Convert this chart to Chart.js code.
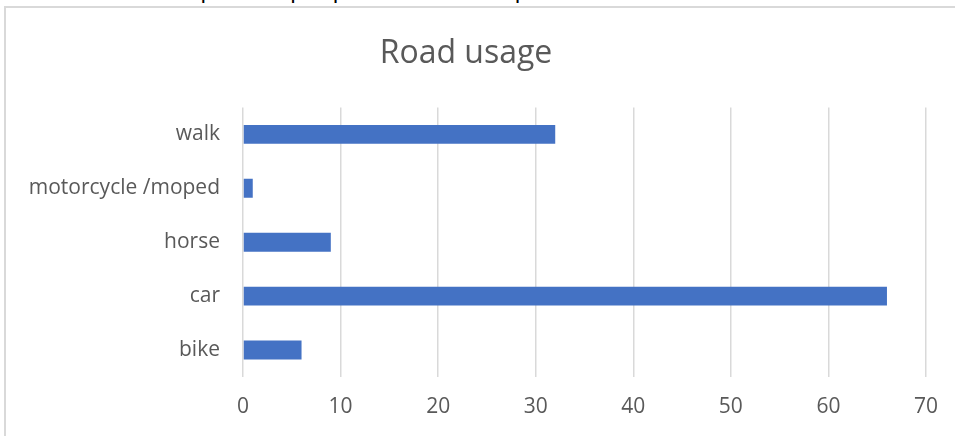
<!DOCTYPE html>
<html>
<head>
<meta charset="utf-8">
<script src="https://cdn.jsdelivr.net/npm/chart.js@4.4.0/dist/chart.umd.min.js"></script>
<style>
  body { margin: 0; background: #fff; overflow: hidden; }
  #docText {
    position: absolute; left: 22px; top: -29px; margin: 0;
    font-family: "Open Sans", sans-serif; font-size: 24px; color: #000;
    white-space: nowrap;
  }
  #frame {
    position: absolute; left: 4px; top: 6px; width: 970px; height: 450px;
    border: 2px solid #d9d9d9;
  }
  #wrap { position: absolute; left: 0; top: 0; width: 955px; height: 436px; }
</style>
</head>
<body>
<p id="docText">assessed the impact on people's other than pleasant.</p>
<div id="frame"></div>
<div id="wrap"><canvas id="roadChart"></canvas></div>
<script>
// 차트 데이터
var categories = ["walk", "motorcycle /moped", "horse", "car", "bike"];
var usageValues = [32, 1, 9, 66, 6];
var xTicks = [0, 10, 20, 30, 40, 50, 60, 70];

var textColor = "#595959";
var fontName = "'Open Sans', sans-serif";

const ctx = document.getElementById("roadChart").getContext("2d");
const myChart = new Chart(ctx, {
    type: "bar",
    data: {
        labels: categories,
        datasets: [{
            label: "Road usage",
            data: usageValues,
            backgroundColor: "#4472C4",
            borderWidth: 0,
            categoryPercentage: 1,
            barPercentage: 0.35
        }]
    },
    options: {
        indexAxis: "y",
        responsive: true,
        maintainAspectRatio: false,
        animation: false,
        layout: { padding: { left: 0, right: 23, top: 0, bottom: 0 } },
        plugins: {
            legend: { display: false },
            tooltip: { enabled: false },
            title: {
                display: true,
                text: "Road usage",
                color: textColor,
                font: { family: fontName, size: 32, weight: "normal" },
                padding: { top: 35, bottom: 34 }
            }
        },
        scales: {
            x: {
                min: xTicks[0],
                max: xTicks[xTicks.length - 1],
                afterBuildTicks: function(scale) {
                    scale.ticks = xTicks.map(function(v) { return { value: v }; });
                },
                afterFit: function(scale) { scale.height = 59; },
                grid: { color: "#d9d9d9", lineWidth: 1.5, drawTicks: false },
                border: { display: false },
                ticks: {
                    color: textColor,
                    padding: 17,
                    font: { family: fontName, size: 21 }
                }
            },
            y: {
                grid: { display: false, drawTicks: false },
                border: { display: false },
                afterFit: function(scale) { scale.width = 243; },
                ticks: {
                    color: textColor,
                    padding: 23,
                    font: { family: fontName, size: 21 }
                }
            }
        }
    }
});
</script>
</body>
</html>
